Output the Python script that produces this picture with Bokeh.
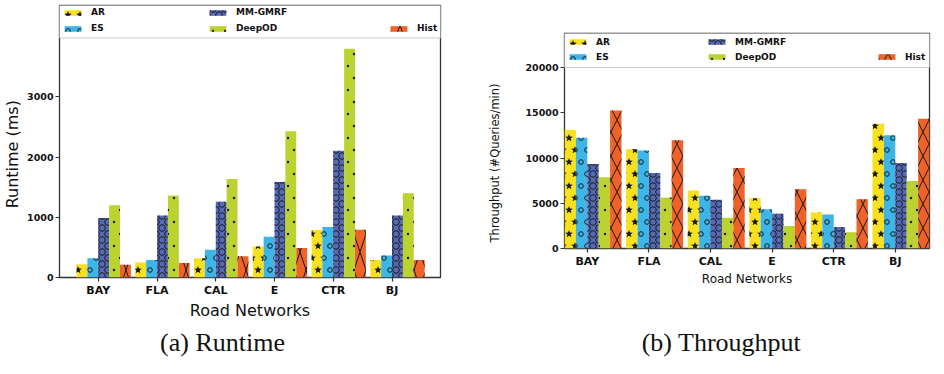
from bokeh.plotting import figure
from bokeh.layouts import row, column
from bokeh.models import (Range1d, FixedTicker, Legend, LegendItem, BoxAnnotation,
                          Label, CanvasTexture, ColumnDataSource)
from bokeh.core.properties import value
from bokeh.transform import dodge
from bokeh.embed import file_html
from bokeh.resources import INLINE

# ---------------- data ----------------
networks = ["BAY", "FLA", "CAL", "E", "CTR", "BJ"]
methods = ["AR", "ES", "MM-GMRF", "DeepOD", "Hist"]

runtime_ar = [220, 250, 320, 515, 790, 290]
runtime_es = [320, 290, 460, 675, 840, 365]
runtime_mm = [990, 1030, 1260, 1585, 2105, 1030]
runtime_deepod = [1200, 1360, 1635, 2430, 3800, 1400]
runtime_hist = [210, 240, 355, 488, 795, 290]

throughput_ar = [13100, 10970, 6400, 5560, 3990, 13790]
throughput_es = [12250, 10830, 5815, 4350, 3770, 12510]
throughput_mm = [9330, 8340, 5375, 3840, 2380, 9440]
throughput_deepod = [7860, 5630, 3400, 2490, 1790, 7460]
throughput_hist = [15250, 11960, 8890, 6550, 5450, 14340]

runtime_ticks = [0, 1000, 2000, 3000]
throughput_ticks = [0, 5000, 10000, 15000, 20000]

captions = ["(a) Runtime", "(b) Throughput"]

colors = ["#F9E21D", "#3DB5E6", "#5669B4", "#BBD231", "#EF6329"]
BW = 0.185
NB = "\u00a0"

# ---------------- hatch textures (own canvas size, own colour) ----------------
STAR = """
const c = ctx.canvas; if (c) { c.width = 12; c.height = 24; }
ctx.fillStyle = "#1a1a1a";
const pts = [[6,6],[0,18],[12,18]];
for (const p of pts) {
  ctx.beginPath();
  for (let i = 0; i < 10; i++) {
    const a = -Math.PI/2 + i*Math.PI/5;
    const r = (i % 2 == 0) ? 4.0 : 1.7;
    const x = p[0] + r*Math.cos(a), y = p[1] + r*Math.sin(a);
    if (i == 0) ctx.moveTo(x, y); else ctx.lineTo(x, y);
  }
  ctx.closePath();
  ctx.fill();
}
"""
SMALL_RING = """
const c = ctx.canvas; if (c) { c.width = 12; c.height = 24; }
ctx.strokeStyle = "#1a1a1a"; ctx.lineWidth = 1;
const pts = [[6,6],[0,18],[12,18]];
for (const p of pts) { ctx.beginPath(); ctx.arc(p[0], p[1], 2.3, 0, 2*Math.PI); ctx.stroke(); }
"""
BIG_RING = """
const c = ctx.canvas; if (c) { c.width = 12; c.height = 12; }
ctx.strokeStyle = "#1a1a1a"; ctx.lineWidth = 1;
const pts = [[6,0],[6,12],[0,6],[12,6]];
for (const p of pts) { ctx.beginPath(); ctx.arc(p[0], p[1], 3.3, 0, 2*Math.PI); ctx.stroke(); }
"""
DOT = """
const c = ctx.canvas; if (c) { c.width = 12; c.height = 24; }
ctx.fillStyle = "#1a1a1a";
const pts = [[6,6],[0,18],[12,18]];
for (const p of pts) { ctx.beginPath(); ctx.arc(p[0], p[1], 1.2, 0, 2*Math.PI); ctx.fill(); }
"""
XHATCH = """
const H = %d;
const c = ctx.canvas; if (c) { c.width = 12; c.height = H; }
ctx.strokeStyle = "#1a1a1a"; ctx.lineWidth = 1;
ctx.beginPath(); ctx.moveTo(-12, -H); ctx.lineTo(24, 2*H); ctx.stroke();
ctx.beginPath(); ctx.moveTo(24, -H); ctx.lineTo(-12, 2*H); ctx.stroke();
"""


def textures(hist_h):
    return [("star", CanvasTexture(code=STAR)), ("sring", CanvasTexture(code=SMALL_RING)),
            ("bring", CanvasTexture(code=BIG_RING)), ("dotp", CanvasTexture(code=DOT)),
            ("xh", CanvasTexture(code=XHATCH % hist_h))]


def make_chart(p, series, hist_h, yticks, ylabel, ylabel_size, xlabel_size,
               xlabel_standoff, ylabel_standoff, box_bottom, leg_locs, label_h):
    src = ColumnDataSource(dict(idx=list(range(len(networks))),
                                **{f"s{k}": vals for k, vals in enumerate(series)}))
    rends = []
    for k, (name, t) in enumerate(textures(hist_h)):
        r = p.vbar(x=dodge("idx", (k - 1.5) * BW, range=p.x_range), top=f"s{k}", width=BW,
                   source=src, fill_color=colors[k], line_color=None,
                   hatch_pattern=value(name), hatch_extra={name: t}, hatch_color="#1a1a1a",
                   hatch_scale=24, hatch_weight=1.0)
        rends.append(r)

    p.grid.visible = False
    p.outline_line_color = "#333333"
    p.outline_line_width = 1.3

    xa, ya = p.xaxis[0], p.yaxis[0]
    for ax in (xa, ya):
        ax.axis_line_color = None
        ax.major_tick_line_color = "#333333"
        ax.major_tick_line_width = 1.2
        ax.major_tick_out = 4
        ax.major_tick_in = 0
        ax.minor_tick_line_color = None
        ax.major_label_text_font = "DejaVu Sans"
        ax.major_label_text_font_style = "bold"
        ax.major_label_text_color = "#111111"
        ax.axis_label_text_font = "DejaVu Sans"
        ax.axis_label_text_font_style = "normal"
        ax.axis_label_text_color = "#111111"
    xa.ticker = FixedTicker(ticks=list(range(len(networks))))
    xa.major_label_overrides = {i: n for i, n in enumerate(networks)}
    xa.major_label_text_font_size = "11px"
    xa.major_label_standoff = 2
    xa.axis_label = "Road Networks"
    xa.axis_label_text_font_size = xlabel_size
    xa.axis_label_standoff = xlabel_standoff
    ya.ticker = FixedTicker(ticks=yticks)
    ya.major_label_text_font_size = "9.5px"
    ya.major_label_standoff = 2
    ya.axis_label = ylabel
    ya.axis_label_text_font_size = ylabel_size
    ya.axis_label_standoff = ylabel_standoff

    box = BoxAnnotation(bottom=box_bottom, fill_color="white", fill_alpha=1.0,
                        line_color="#cccccc", line_width=1.2, line_alpha=1.0)
    p.add_layout(box)

    groups = [[0, 1], [2, 3], [4]]
    for g, loc in zip(groups, leg_locs):
        leg = Legend(items=[LegendItem(label=methods[k], renderers=[rends[k]]) for k in g],
                     location=loc, margin=0, padding=0, spacing=2,
                     glyph_width=21, glyph_height=7, label_height=label_h,
                     label_standoff=8, label_text_font="DejaVu Sans", label_text_font_size="9px",
                     label_text_font_style="bold", label_text_color="#111111",
                     border_line_color=None, background_fill_alpha=0.0)
        p.add_layout(leg)


# ---------------- left: runtime ----------------
FW1, FH1 = 381, 272
p1 = figure(frame_width=FW1, frame_height=FH1, x_range=Range1d(-0.66, 5.825),
            y_range=Range1d(0, 4518), output_backend="svg", toolbar_location=None, title=None,
            min_border_left=56, min_border_right=33, min_border_top=5, min_border_bottom=42)
make_chart(p1, [runtime_ar, runtime_es, runtime_mm, runtime_deepod, runtime_hist], 36,
           runtime_ticks, "Runtime (ms)" + NB * 5, "16px", "16px", 1, 2, 3978,
           [(3, FH1 - 30), (148, FH1 - 30), (329, FH1 - 30)], 14)

# ---------------- right: throughput ----------------
FW2, FH2 = 365, 215
p2 = figure(frame_width=FW2, frame_height=FH2, x_range=Range1d(-0.37, 5.555),
            y_range=Range1d(0, 23757), output_backend="svg", toolbar_location=None, title=None,
            min_border_left=91, min_border_right=2, min_border_top=33, min_border_bottom=40)
make_chart(p2, [throughput_ar, throughput_es, throughput_mm, throughput_deepod, throughput_hist], 24,
           throughput_ticks, "Throughput (#Queries/min)" + NB * 12, "11.5px", "12px", 1, 20, 20000,
           [(3, FH2 - 28 - 2), (142, FH2 - 28 - 2), (FW2 - 53, FH2 - 28 - 2)], 13)

# ---------------- captions ----------------
p3 = figure(width=928, height=39, x_range=Range1d(0, 928), y_range=Range1d(0, 39),
            output_backend="svg", toolbar_location=None, title=None,
            x_axis_type=None, y_axis_type=None, min_border=0)
p3.grid.visible = False
p3.outline_line_color = None
for cx, txt in zip([222, 721], captions):
    p3.add_layout(Label(x=cx, y=19, text=txt, text_align="center", text_baseline="middle",
                        text_font="Liberation Serif", text_font_size="26px",
                        text_color="#111111"))

layout = column(row(column(p1), column(p2)), column(p3))
open("out.html", "w").write(file_html(layout, INLINE))
